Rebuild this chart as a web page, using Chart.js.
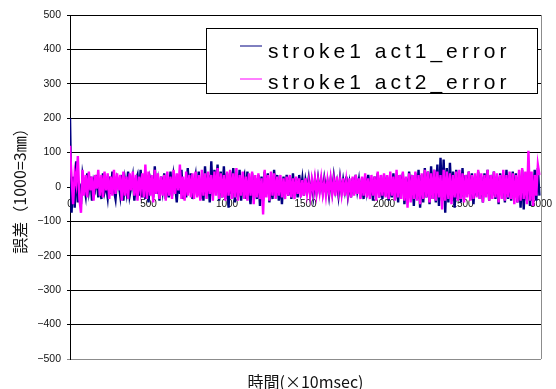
<!DOCTYPE html>
<html>
<head>
<meta charset="utf-8">
<script src="https://cdn.jsdelivr.net/npm/chart.js@4.4.1/dist/chart.umd.min.js"></script>
<style>
    html, body { margin: 0; padding: 0; background: #fff; }
</style>
</head>
<body>
<canvas id="err-chart" width="556" height="389"></canvas>
<script>
const SERIES_NAMES = ['stroke1 act1_error', 'stroke1 act2_error'];
const SERIES_COLORS = ['#000080', '#ff00ff'];

// one kept sample every 10 time units (x10msec)
const SAMPLE_STEP = 10;

const act1Error = [
    200, -75, 30, -60, 75, -45, 10, -50, 35, 5, -25, 40, -10, 30, -40, 15, -5, 35, -30, 20,
    -35, 40, -15, 5, -30, 30, -20, 45, -10, -35, 25, 10, -25, 35, -40, 20, -15, 45, -25, 0,
    30, -40, 20, 35, -25, 50, -30, 10, -35, 30, -45, 25, 5, -30, 60, -20, 15, -40, 30, -10,
    40, -35, 15, -30, 45, -25, 35, 5, -45, 30, -20, 50, -35, 20, -30, 55, -15, 40, -35, 10,
    35, -25, 45, -35, 20, -40, 60, -20, 35, -45, 75, -25, 50, -10, 65, -40, 45, -30, 60, -35,
    40, -60, 45, -20, 55, -45, 25, -30, 50, -40, 20, 35, -35, 45, -15, -50, 40, -30, 25, -35,
    35, -55, 30, -40, 45, -20, 40, -45, 15, -35, 50, -25, 35, -40, 10, -50, 30, -20, 35, -25,
    30, -35, 40, -25, 25, -30, 35, -10, 25, -25, 20, -5, 25, -20, 15, -25, 20, -15, 25, -10,
    20, -15, 25, -5, 15, -25, 20, -15, 30, -10, 15, -25, 25, -15, 20, -10, 30, -25, 10, -30,
    25, -20, 35, -10, 20, -30, 25, -35, 30, -10, 35, -25, 15, -40, 30, -15, 40, -30, 25, -35,
    35, -25, 30, -40, 15, -30, 40, -35, 30, -45, 35, -15, 40, -50, 25, -35, 45, -20, 35, -55,
    40, -35, 50, -60, 35, -45, 55, -30, 45, -50, 60, -35, 50, -45, 65, -55, 85, -40, 80, -75,
    55, -45, 70, -30, 45, -60, 50, -35, 40, -45, 55, -30, 35, -20, 45, -35, 40, -50, 30, -25,
    45, -35, 30, -45, 40, -20, 50, -40, 35, -25, 45, -35, 30, -50, 40, -20, 35, -45, 50, -35,
    35, -40, 45, -30, 40, -45, 30, -60, 50, -65, 35, -40, 45, -55, 25, -35, 50, -40, 55, -25,
];

const act2Error = [
    120, 25, -50, 40, 10, 90, -35, -75, 50, -25, 35, -30, 45, -10, 30, -40, 35, -5, 50, -25,
    35, -30, 45, -10, 40, -35, 30, -25, 50, -20, 40, -10, 35, -40, 45, -25, 30, -35, 40, -10,
    45, -25, 35, -40, 30, -10, 40, -30, 65, -35, 45, -25, 35, -45, 50, -20, 40, -35, 30, -25,
    35, -40, 45, -25, 30, -35, 50, -20, 40, -10, 65, -35, 30, -40, 45, -25, 35, -30, 40, -35,
    45, -30, 35, -40, 50, -25, 40, -35, 45, -20, 35, -40, 45, -25, 55, -35, 40, -30, 35, -40,
    45, -25, 50, -35, 40, -30, 55, -40, 35, -25, 45, -35, 30, -40, 40, -25, 45, -50, 35, -30,
    40, -35, 25, -80, 50, -30, 35, -40, 45, -25, 40, -35, 30, -25, 35, -30, 25, -35, 30, -25,
    35, -30, 25, -35, 30, -20, 25, -30, 20, -25, 25, -20, 15, -25, 20, -15, 25, -20, 20, -15,
    25, -20, 15, -25, 20, -15, 25, -20, 20, -25, 30, -15, 20, -20, 25, -25, 20, -20, 25, -30,
    30, -25, 35, -20, 25, -35, 30, -25, 40, -30, 25, -35, 35, -25, 30, -40, 45, -30, 35, -25,
    40, -30, 35, -35, 45, -25, 30, -40, 50, -30, 35, -35, 45, -40, 30, -60, 40, -45, 35, -35,
    45, -40, 35, -50, 40, -35, 50, -30, 45, -45, 40, -35, 50, -40, 45, -30, 35, -65, 50, -40,
    45, -35, 40, -50, 35, -30, 45, -40, 50, -35, 40, -45, 35, -30, 45, -40, 35, -35, 40, -30,
    50, -35, 40, -45, 35, -30, 50, -40, 35, -35, 45, -30, 40, -45, 35, -35, 50, -40, 35, -30,
    45, -35, 40, -50, 35, -45, 50, -40, 55, -35, 45, -50, 105, -40, 45, -55, 35, -25, 65, 35,
];

const xTicks = [0, 500, 1000, 1500, 2000, 2500, 3000];
const yTicks = [-500, -400, -300, -200, -100, 0, 100, 200, 300, 400, 500];

const X_TITLE = '時間(×10msec)';
const Y_TITLE = '誤差（1000=3㎜）';

const LATIN = '"Liberation Sans", Arial, sans-serif';
const CJK   = '"Noto Sans CJK JP", sans-serif';

const times = act1Error.map((_, i) => i * SAMPLE_STEP);


// gray right edge of the plot area
const plotFrame = {
    id : 'plotFrame',
    beforeDatasetsDraw(chart) {
        const { ctx, chartArea: a } = chart;
        const x = Math.round(a.right) + 0.5;
        ctx.save();
        ctx.strokeStyle = '#8c8c8c';
        ctx.lineWidth   = 1;
        ctx.beginPath();
        ctx.moveTo(x, a.top);
        ctx.lineTo(x, a.bottom);
        ctx.stroke();
        ctx.restore();
    },
};

// boxed legend sitting over the top gridlines, plus the bottom axis title
const boxLegend = {
    id : 'boxLegend',
    afterDatasetsDraw(chart) {
        const { ctx, chartArea: a } = chart;
        const left = 206, top = 28, w = 331, h = 65;

        ctx.save();
        ctx.fillStyle = '#fff';
        ctx.fillRect(left, top, w, h);
        ctx.strokeStyle = '#000';
        ctx.lineWidth   = 1;
        ctx.strokeRect(left + 0.5, top + 0.5, w, h);

        const lineYs = [46, 79];
        const baseYs = [57.5, 89];
        ctx.font          = '21px ' + LATIN;
        ctx.letterSpacing = '4px';
        ctx.textBaseline  = 'alphabetic';
        ctx.textAlign     = 'left';

        SERIES_NAMES.forEach((name, i) => {
            ctx.strokeStyle = SERIES_COLORS[i];
            ctx.beginPath();
            ctx.moveTo(240, lineYs[i]);
            ctx.lineTo(262, lineYs[i]);
            ctx.stroke();
            ctx.fillStyle = '#000';
            ctx.fillText(name, 268, baseYs[i]);
        });

        ctx.letterSpacing = '0px';
        ctx.font          = '16px ' + CJK;
        ctx.textAlign     = 'center';
        ctx.textBaseline  = 'middle';
        ctx.fillStyle     = '#111';
        ctx.fillText(X_TITLE, (a.left + a.right) / 2, 382);
        ctx.restore();
    },
};


new Chart(document.getElementById('err-chart'), {
    type : 'line',
    data : {
        labels   : times,
        datasets : [
            {
                label       : SERIES_NAMES[0],
                data        : act1Error,
                borderColor : SERIES_COLORS[0],
                borderWidth : 2.4,
                pointRadius : 0,
                tension     : 0,
                order       : 1,
            },
            {
                label       : SERIES_NAMES[1],
                data        : act2Error,
                borderColor : SERIES_COLORS[1],
                borderWidth : 2.4,
                pointRadius : 0,
                tension     : 0,
                order       : 0,
            },
        ],
    },
    options : {
        responsive : false,
        animation  : false,
        devicePixelRatio : 1,
        layout : { padding: { left: 0, right: 15, top: 15, bottom: 30 } },
        plugins : {
            legend  : { display: false },
            tooltip : { enabled: false },
        },
        scales : {
            x : {
                type     : 'linear',
                position : { y: 0 },
                min      : 0,
                max      : 3000,
                afterBuildTicks : (s) => { s.ticks = xTicks.map((v) => ({ value: v })); },
                grid   : { display: false, drawTicks: true, tickLength: 8 },
                border : { display: true, color: '#555', width: 1 },
                ticks  : {
                    font        : { family: LATIN, size: 10 },
                    color       : '#111',
                    padding     : 3,
                    maxRotation : 0,
                    autoSkip    : false,
                    callback    : (v) => String(v),
                },
            },
            y : {
                type : 'linear',
                min  : -500,
                max  : 500,
                afterBuildTicks : (s) => { s.ticks = yTicks.map((v) => ({ value: v })); },
                afterFit : (s) => { s.width = 70; },
                grid : {
                    color      : (c) => (c.tick && c.tick.value === -500 ? '#8c8c8c' : '#000'),
                    lineWidth  : 1,
                    drawTicks  : true,
                    tickLength : 3,
                },
                border : { display: true, color: '#000', width: 1 },
                ticks  : {
                    font     : { family: LATIN, size: 10.5 },
                    color    : '#111',
                    padding  : 6,
                    callback : (v) => String(v).replace('-', '\u2212'),
                },
                title : {
                    display : true,
                    text    : Y_TITLE,
                    color   : '#111',
                    font    : { family: CJK, size: 16, lineHeight: 1.2 },
                    padding : { top: 10, bottom: 0 },
                },
            },
        },
    },
    plugins : [plotFrame, boxLegend],
});
</script>
</body>
</html>
